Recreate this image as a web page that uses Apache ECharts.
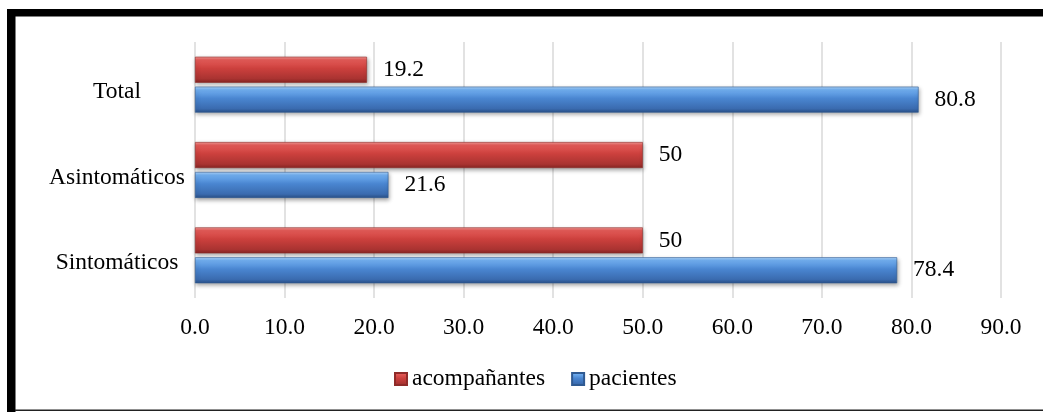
<!DOCTYPE html>
<html>
<head>
<meta charset="utf-8">
<script src="https://cdn.jsdelivr.net/npm/echarts@6/dist/echarts.min.js"></script>
<style>
  html, body { margin: 0; padding: 0; background: #ffffff; }
  #chart { width: 1043px; height: 412px; }
</style>
</head>
<body>
<div id="chart"></div>
<script>
// Categories listed bottom-to-top along the vertical axis
const categories = ['Sintomáticos', 'Asintomáticos', 'Total'];
const seriesNames = ['acompañantes', 'pacientes'];
const acompanantes = [50, 50, 19.2];
const pacientes = [78.4, 21.6, 80.8];
const xTicks = { min: 0, max: 90, interval: 10 };

const FONT = '"Liberation Serif", "Times New Roman", serif';
const FS = 23.5;

function bevel(stops) {
  return {
    type: 'linear', x: 0, y: 0, x2: 0, y2: 1,
    colorStops: stops.map(s => ({ offset: s[0], color: s[1] }))
  };
}

const redFill = bevel([[0, '#f39a97'], [0.12, '#e55b58'], [0.45, '#cc403d'], [0.85, '#a93331'], [1, '#862523']]);
const blueFill = bevel([[0, '#b0d6fb'], [0.12, '#72b0f2'], [0.45, '#4a86d1'], [0.85, '#3a6baf'], [1, '#2a5087']]);

const chart = echarts.init(document.getElementById('chart'), null, { renderer: 'canvas' });

const labelStyle = {
  show: true,
  position: 'right',
  distance: 16,
  fontFamily: FONT,
  fontSize: FS,
  color: '#000000',
  formatter: p => String(p.value)
};

const barShadow = {
  shadowColor: 'rgba(0,0,0,0.35)',
  shadowBlur: 4,
  shadowOffsetX: 1,
  shadowOffsetY: 2
};

chart.setOption({
  backgroundColor: '#ffffff',
  animation: false,
  grid: { left: 195, right: 42, top: 42, bottom: 114 },
  legend: {
    data: seriesNames,
    icon: 'rect',
    left: 389,
    top: 362,
    itemWidth: 12,
    itemHeight: 12,
    itemGap: 26,
    textStyle: { fontFamily: FONT, fontSize: FS, color: '#000000' }
  },
  xAxis: {
    type: 'value',
    min: xTicks.min,
    max: xTicks.max,
    interval: xTicks.interval,
    axisLine: { show: false },
    axisTick: { show: false },
    splitLine: { show: true, lineStyle: { color: '#d9d9d9', width: 1.5 } },
    axisLabel: {
      margin: 18,
      fontFamily: FONT,
      fontSize: FS,
      color: '#000000',
      formatter: v => v.toFixed(1)
    }
  },
  yAxis: {
    type: 'category',
    data: categories,
    axisLine: { show: false },
    axisTick: { show: false },
    splitLine: { show: false },
    axisLabel: {
      margin: 78,
      align: 'center',
      formatter: v => '{c|' + v + '}',
      rich: {
        c: {
          fontFamily: FONT,
          fontSize: FS,
          color: '#000000',
          padding: [15, 0, 0, 0]
        }
      }
    }
  },
  series: [
    {
      name: 'acompañantes',
      type: 'bar',
      data: acompanantes,
      barWidth: 26,
      barGap: '15%',
      itemStyle: Object.assign({ color: redFill, borderColor: '#8f2b29', borderWidth: 0.6 }, barShadow),
      label: labelStyle
    },
    {
      name: 'pacientes',
      type: 'bar',
      data: pacientes,
      barWidth: 26,
      barGap: '15%',
      itemStyle: Object.assign({ color: blueFill, borderColor: '#2f5a92', borderWidth: 0.6 }, barShadow),
      label: labelStyle
    }
  ],
  graphic: [
    // heavy frame along the top and left edges
    { type: 'rect', shape: { x: 7, y: 9, width: 1036, height: 7.5 }, style: { fill: '#000000' }, silent: true },
    { type: 'rect', shape: { x: 7, y: 9, width: 8.5, height: 403 }, style: { fill: '#000000' }, silent: true },
    // thin rule along the bottom edge
    { type: 'rect', shape: { x: 15, y: 409.5, width: 1028, height: 1.5 }, style: { fill: '#222222' }, silent: true }
  ]
});
</script>
</body>
</html>
